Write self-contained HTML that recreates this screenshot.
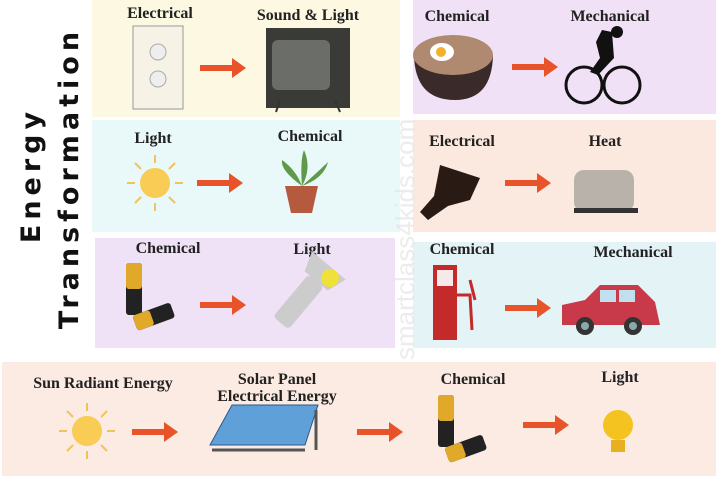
<!DOCTYPE html>
<html><head><meta charset="utf-8"><style>
html,body{margin:0;padding:0;background:#fff;width:720px;height:480px;overflow:hidden}
svg{display:block}
.l{font-family:"Liberation Serif",serif;font-weight:bold;font-size:16px;fill:#222;text-anchor:middle}
.t{font-family:"DejaVu Sans","Liberation Sans",sans-serif;font-weight:bold;font-size:27px;fill:#111;letter-spacing:5px;text-anchor:middle}
</style></head><body>
<svg width="720" height="480" viewBox="0 0 720 480">
<defs>
<g id="ar"><rect x="0" y="-3" width="34" height="6" fill="#e8532a"/><polygon points="32,-10 46,0 32,10" fill="#e8532a"/></g>
<g id="sun"><circle r="15" fill="#f8cc55"/><g stroke="#f2c35a" stroke-width="2"><line x1="0" y1="-20" x2="0" y2="-28"/><line x1="0" y1="20" x2="0" y2="28"/><line x1="-20" y1="0" x2="-28" y2="0"/><line x1="20" y1="0" x2="28" y2="0"/><line x1="14" y1="14" x2="20" y2="20"/><line x1="-14" y1="14" x2="-20" y2="20"/><line x1="14" y1="-14" x2="20" y2="-20"/><line x1="-14" y1="-14" x2="-20" y2="-20"/></g></g>
<g id="bat"><rect x="-14" y="-35" width="16" height="52" rx="3" fill="#222"/><rect x="-14" y="-35" width="16" height="26" rx="3" fill="#e1a92a"/><g transform="rotate(-20 10 20)"><rect x="-6" y="12" width="40" height="16" rx="3" fill="#222"/><rect x="-6" y="12" width="18" height="16" rx="3" fill="#e1a92a"/></g></g>
</defs>
<rect x="92" y="0" width="308" height="117" fill="#fcf8e2"/>
<rect x="413" y="0" width="303" height="114" fill="#f0e1f6"/>
<rect x="92" y="120" width="308" height="112" fill="#e9f8f9"/>
<rect x="413" y="120" width="303" height="112" fill="#fbe9df"/>
<rect x="95" y="238" width="300" height="110" fill="#f0e2f6"/>
<rect x="413" y="242" width="303" height="106" fill="#e3f3f6"/>
<rect x="2" y="362" width="714" height="114" fill="#fcebe2"/>
<text class="t" transform="translate(40 175) rotate(-90)">Energy</text>
<text class="t" transform="translate(78 178) rotate(-90)">Transformation</text>
<text transform="translate(414 360) rotate(-90)" font-family="Liberation Sans,sans-serif" font-size="26" fill="#e4e4e4" opacity="0.7">smartclass4kids.com</text>
<!-- row1 left -->
<text class="l" x="160" y="18">Electrical</text><text class="l" x="308" y="20">Sound &amp; Light</text>
<rect x="133" y="26" width="50" height="83" fill="#f6f2e6" stroke="#999"/><circle cx="158" cy="52" r="8" fill="#eee" stroke="#aaa"/><circle cx="158" cy="79" r="8" fill="#eee" stroke="#aaa"/>
<use href="#ar" x="200" y="68"/>
<rect x="266" y="28" width="84" height="80" fill="#3a3a36"/><rect x="272" y="40" width="58" height="50" rx="6" fill="#6a6d68"/><line x1="280" y1="100" x2="276" y2="112" stroke="#333" stroke-width="2"/><line x1="335" y1="100" x2="340" y2="112" stroke="#333" stroke-width="2"/>
<!-- row1 right -->
<text class="l" x="457" y="21">Chemical</text><text class="l" x="610" y="21">Mechanical</text>
<path d="M414 55 Q415 100 455 100 Q492 100 493 55 Z" fill="#3a2a2a"/><ellipse cx="453" cy="55" rx="40" ry="20" fill="#b08a70"/><ellipse cx="442" cy="52" rx="12" ry="9" fill="#fff"/><circle cx="441" cy="52" r="5" fill="#f3b02a"/>
<use href="#ar" x="512" y="67"/>
<circle cx="584" cy="85" r="18" fill="none" stroke="#111" stroke-width="3"/><circle cx="622" cy="85" r="18" fill="none" stroke="#111" stroke-width="3"/><path d="M602 30 L612 32 L614 58 L598 75 L590 72 L600 58 L596 42 Z" fill="#111"/><circle cx="617" cy="32" r="6" fill="#111"/>
<!-- row2 left -->
<text class="l" x="153" y="143">Light</text><text class="l" x="310" y="141">Chemical</text>
<use href="#sun" x="155" y="183"/>
<use href="#ar" x="197" y="183"/>
<path d="M285 186 L318 186 L312 213 L291 213 Z" fill="#b55a3e"/><path d="M302 186 Q280 170 282 160 Q296 170 302 186 Q300 160 304 150 Q312 168 302 186 Q322 168 328 162 Q324 178 302 186" fill="#5f9a4a"/>
<!-- row2 right -->
<text class="l" x="462" y="146">Electrical</text><text class="l" x="605" y="146">Heat</text>
<path d="M440 165 L480 178 L470 200 L448 206 L428 220 L420 212 L434 196 Z" fill="#2a1a14"/>
<use href="#ar" x="505" y="183"/>
<rect x="574" y="170" width="60" height="42" rx="10" fill="#b9b2aa"/><rect x="574" y="208" width="64" height="5" fill="#333"/>
<!-- row3 left -->
<text class="l" x="168" y="253">Chemical</text><text class="l" x="312" y="254">Light</text>
<use href="#bat" x="140" y="298"/>
<use href="#ar" x="200" y="305"/>
<g transform="rotate(-50 300 300)"><rect x="270" y="290" width="55" height="20" rx="4" fill="#ccc"/><path d="M325 285 L345 278 L345 322 L325 315 Z" fill="#ccc"/></g><circle cx="330" cy="278" r="9" fill="#f0e03a"/>
<!-- row3 right -->
<text class="l" x="462" y="254">Chemical</text><text class="l" x="633" y="257">Mechanical</text>
<rect x="433" y="265" width="24" height="75" fill="#c42a2a"/><rect x="437" y="270" width="16" height="16" fill="#f6e9e9"/><path d="M457 295 L470 295 L472 330 M470 280 L475 300" stroke="#c42a2a" stroke-width="3" fill="none"/>
<use href="#ar" x="505" y="308"/>
<path d="M562 325 L562 305 L585 300 L600 285 L638 285 L655 302 L660 325 Z" fill="#c83a4a"/><rect x="600" y="290" width="16" height="12" fill="#bfe0ee"/><rect x="619" y="290" width="16" height="12" fill="#bfe0ee"/><circle cx="585" cy="326" r="9" fill="#333"/><circle cx="633" cy="326" r="9" fill="#333"/><circle cx="585" cy="326" r="4" fill="#8aa"/><circle cx="633" cy="326" r="4" fill="#8aa"/>
<!-- row4 -->
<text class="l" x="103" y="388">Sun Radiant Energy</text>
<text class="l" x="277" y="384">Solar Panel</text><text class="l" x="277" y="401">Electrical Energy</text>
<text class="l" x="473" y="384">Chemical</text><text class="l" x="620" y="382">Light</text>
<use href="#sun" x="87" y="431"/>
<use href="#ar" x="132" y="432"/>
<polygon points="232,405 318,405 305,445 210,445" fill="#5fa0d8" stroke="#2a5a8a"/><line x1="212" y1="450" x2="305" y2="450" stroke="#555" stroke-width="3"/><line x1="316" y1="410" x2="316" y2="450" stroke="#555" stroke-width="3"/>
<use href="#ar" x="357" y="432"/>
<use href="#bat" x="452" y="430"/>
<use href="#ar" x="523" y="425"/>
<circle cx="618" cy="425" r="15" fill="#f4c320"/><rect x="611" y="440" width="14" height="12" fill="#e6b020"/>
</svg>
</body></html>
